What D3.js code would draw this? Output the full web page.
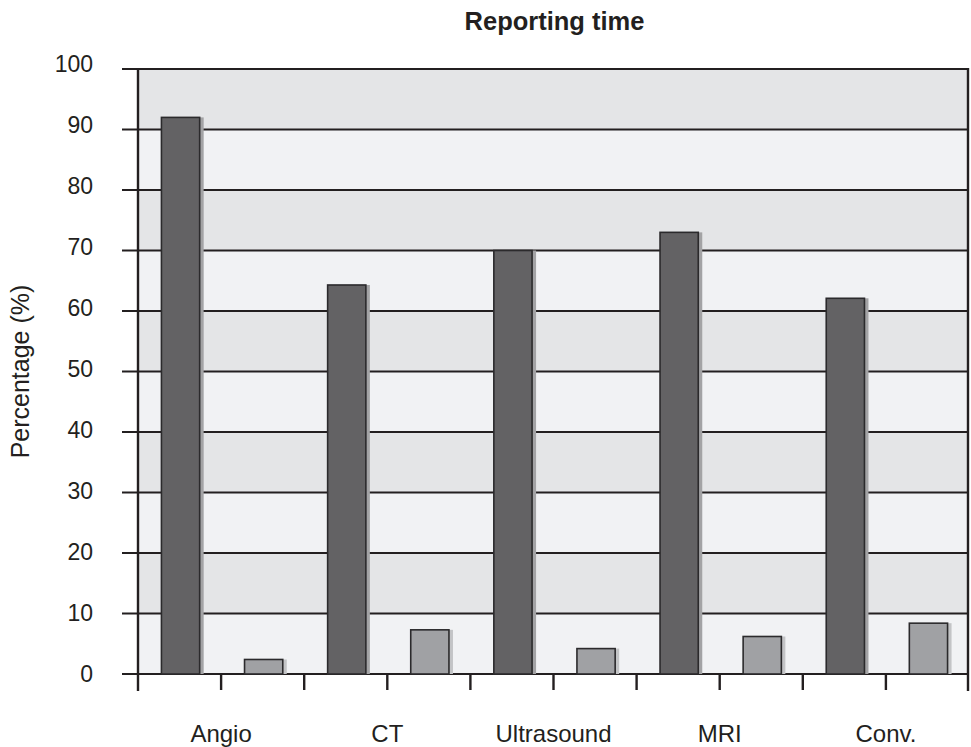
<!DOCTYPE html>
<html>
<head>
<meta charset="utf-8">
<script src="https://cdn.jsdelivr.net/npm/d3@7"></script>
<style>
  html, body { margin: 0; padding: 0; background: #fff; }
  svg { display: block; font-family: "Liberation Sans", Arial, Helvetica, sans-serif; }
</style>
</head>
<body>
<svg id="chart" width="971" height="747"></svg>
<script>
// Reporting time by modality: two series per modality
const categories = ["Angio", "CT", "Ultrasound", "MRI", "Conv."];
const seriesA = [92.0, 64.3, 70.0, 73.0, 62.1];
const seriesB = [2.4, 7.3, 4.2, 6.2, 8.4];
const yTicks = [0, 10, 20, 30, 40, 50, 60, 70, 80, 90, 100];

const svg = d3.select("#chart");
const W = 971, H = 747;
const margin = { top: 69, right: 2, bottom: 73, left: 138 };
const x0 = margin.left, x1 = W - margin.right;
const yTop = margin.top, yBot = H - margin.bottom;
const ink = "#231f20";

const y = d3.scaleLinear().domain([0, 100]).range([yBot, yTop]);
// tick labels sit a little higher towards the top of the axis
const yLabel = d3.scaleLinear().domain([0, 100]).range([yBot - 0.5, yTop - 5]);

// each category has two slots: first for series A, second for series B
const slots = [];
categories.forEach(c => { slots.push(c + "|A"); slots.push(c + "|B"); });
const xs = d3.scaleBand().domain(slots).range([x0, x1]);
const xc = d3.scaleBand().domain(categories).range([x0, x1]);

const g = svg.append("g");

// alternating horizontal bands
const bands = d3.range(0, 100, 10);
g.selectAll("rect.band").data(bands).enter().append("rect")
  .attr("x", x0).attr("width", x1 - x0)
  .attr("y", d => y(d + 10)).attr("height", d => y(d) - y(d + 10))
  .attr("fill", d => (d / 10) % 2 === 1 ? "#e4e5e7" : "#f1f2f4");

// gridlines with outward tick stubs
g.selectAll("line.grid").data(yTicks).enter().append("line")
  .attr("x1", x0 - 16).attr("x2", x1)
  .attr("y1", d => y(d)).attr("y2", d => y(d))
  .attr("stroke", ink).attr("stroke-width", 2.2);

// bars with a flat shadow to the right
const barW = xs.bandwidth() * 0.46;
const bars = [];
categories.forEach((c, i) => {
  bars.push({ key: c + "|A", v: seriesA[i], fill: "#636264", shadow: "#a3a3a5" });
  bars.push({ key: c + "|B", v: seriesB[i], fill: "#a0a1a4", shadow: "#c3c4c6" });
});
const bx = d => xs(d.key) + (xs.bandwidth() - barW) / 2 + 1;
g.selectAll("rect.shadow").data(bars).enter().append("rect")
  .attr("x", d => bx(d) + barW - 1).attr("width", 5)
  .attr("y", d => y(d.v)).attr("height", d => y(0) - y(d.v))
  .attr("fill", d => d.shadow);
g.selectAll("rect.bar").data(bars).enter().append("rect")
  .attr("x", bx).attr("width", barW)
  .attr("y", d => y(d.v)).attr("height", d => y(0) - y(d.v))
  .attr("fill", d => d.fill)
  .attr("stroke", "#2b2a2c").attr("stroke-width", 1.6);

// y axis labels
const yAxis = d3.axisLeft(y).tickValues(yTicks).tickSize(0).tickPadding(0);
const ya = svg.append("g").attr("transform", `translate(${x0},0)`).call(yAxis);
ya.select(".domain").remove();
ya.selectAll(".tick").attr("transform", d => `translate(0,${yLabel(d)})`);
ya.selectAll("text").attr("x", -45).attr("dy", "0.35em")
  .attr("font-size", 23).attr("fill", ink)
  .attr("font-family", "Liberation Sans, Arial, sans-serif");

// axis frame: left and right
svg.append("line").attr("x1", x0).attr("x2", x0).attr("y1", yTop - 1).attr("y2", yBot + 17)
  .attr("stroke", ink).attr("stroke-width", 2.4);
svg.append("line").attr("x1", x1 - 1).attr("x2", x1 - 1).attr("y1", yTop - 1).attr("y2", yBot + 17)
  .attr("stroke", ink).attr("stroke-width", 2.4);

// x ticks at slot boundaries, category labels centred on each pair
const xTickPos = slots.map(s => xs(s));
const xAxis = d3.axisBottom(xc).tickSize(0).tickPadding(0);
const xa = svg.append("g").attr("transform", `translate(0,${yBot})`).call(xAxis);
xa.select(".domain").remove();
xa.selectAll("text").attr("y", 68).attr("dy", 0)
  .attr("font-size", 24).attr("fill", ink)
  .attr("font-family", "Liberation Sans, Arial, sans-serif");
svg.selectAll("line.xt").data(xTickPos.slice(1)).enter().append("line")
  .attr("x1", d => d).attr("x2", d => d)
  .attr("y1", yBot).attr("y2", yBot + 16)
  .attr("stroke", ink).attr("stroke-width", 2.4);

// titles
svg.append("text").attr("x", (x0 + x1) / 2 + 1).attr("y", 29.5)
  .attr("text-anchor", "middle").attr("font-size", 25.5).attr("font-weight", "bold")
  .attr("fill", ink).text("Reporting time");
svg.append("text")
  .attr("transform", `translate(29,${(yTop + yBot) / 2}) rotate(-90)`)
  .attr("text-anchor", "middle").attr("font-size", 25).attr("fill", ink)
  .text("Percentage (%)");
</script>
</body>
</html>
